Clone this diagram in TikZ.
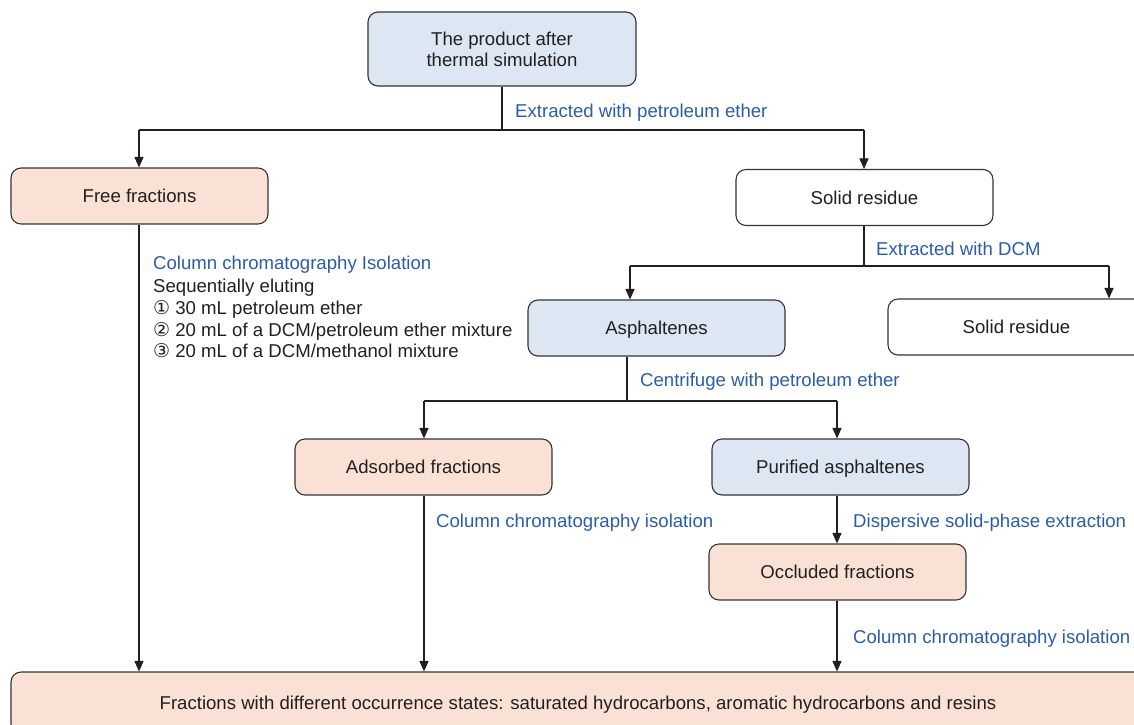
\documentclass[tikz,border=0pt]{standalone}
\usepackage{fontspec}
\setmainfont{Liberation Sans}
\newfontfamily\symfont{DejaVu Sans}
\usetikzlibrary{arrows.meta}
\definecolor{lblue}{HTML}{2B5CAB}
\definecolor{bfill}{HTML}{DCE7F3}
\definecolor{pfill}{HTML}{FAE1D5}
\definecolor{edge}{HTML}{3A3232}
\definecolor{txt}{HTML}{231F20}
\tikzset{
  box/.style={draw=edge, line width=1.1pt, rounded corners=10pt, minimum width=257pt, minimum height=56pt, inner sep=0pt, text=txt, align=center, font=\fontsize{18.6}{21}\selectfont},
  one/.style={text height=13.5pt, text depth=0pt},
  bluebox/.style={box, fill=bfill},
  peachbox/.style={box, fill=pfill},
  whitebox/.style={box, fill=white},
  conn/.style={draw=txt, line width=1.3pt},
  arr/.style={conn, -{Triangle[length=10.5pt,width=9pt]}},
  lab/.style={anchor=west, inner sep=0pt, text=lblue, font=\fontsize{18.6}{21}\selectfont},
}
\newcommand{\circnum}[1]{{\symfont\fontsize{19}{21.75}\selectfont #1}}
\begin{document}
\begin{tikzpicture}[x=1pt,y=-1pt]
\useasboundingbox (0,0) rectangle (1134,724);
\clip (0,0) rectangle (1134,724);
% boxes
\node[bluebox, minimum width=268pt, minimum height=74pt] (top) at (502,49) {The product after\\thermal simulation};
\node[peachbox, one] (free) at (139.5,196) {Free fractions};
\node[whitebox, one] (sr1) at (864.5,197.5) {Solid residue};
\node[bluebox, one] (asph) at (656.5,328) {Asphaltenes};
\node[whitebox, one] (sr2) at (1016.5,327) {Solid residue};
\node[peachbox, one] (ads) at (423.5,467) {Adsorbed fractions};
\node[bluebox, one] (pur) at (840.5,467) {Purified asphaltenes};
\node[peachbox, one] (occ) at (837.5,572) {Occluded fractions};
\node[peachbox, one, minimum width=1134pt, minimum height=62pt] (fin) at (578,703) {Fractions with different occurrence states: saturated hydrocarbons, aromatic hydrocarbons and resins};
% junction coordinates
\coordinate (j1) at (502,130);
\coordinate (j1l) at (139,130);
\coordinate (j1r) at (864,130);
\coordinate (j2) at (864,266);
\coordinate (j2l) at (630,266);
\coordinate (j2r) at (1109,266);
\coordinate (j3) at (627,401);
\coordinate (j3l) at (424,401);
\coordinate (j3r) at (837,401);
% connectors
\draw[conn] (top.south) -- (j1);
\draw[conn] (j1l) -- (j1r);
\draw[arr] (j1l) -- (j1l |- free.north);
\draw[arr] (j1r) -- (j1r |- sr1.north);
\draw[conn] (j2 |- sr1.south) -- (j2);
\draw[conn] (j2l) -- (j2r);
\draw[arr] (j2l) -- (j2l |- asph.north);
\draw[arr] (j2r) -- (j2r |- sr2.north);
\draw[conn] (j3 |- asph.south) -- (j3);
\draw[conn] (j3l) -- (j3r);
\draw[arr] (j3l) -- (j3l |- ads.north);
\draw[arr] (j3r) -- (j3r |- pur.north);
\draw[arr] (j3r |- pur.south) -- (j3r |- occ.north);
\draw[arr] (j3r |- occ.south) -- (j3r |- fin.north);
\draw[arr] (j3l |- ads.south) -- (j3l |- fin.north);
\draw[arr] (j1l |- free.south) -- (j1l |- fin.north);
% labels
\node[lab] (l1) at (515,113) {Extracted with petroleum ether};
\node[lab] (l2) at (876,249) {Extracted with DCM};
\node[lab] (l3) at (640,382) {Centrifuge with petroleum ether};
\node[lab] (l4) at (436,523) {Column chromatography isolation};
\node[lab] (l5) at (853,523) {Dispersive solid-phase extraction};
\node[lab] (l6) at (853,639) {Column chromatography isolation};
\node[lab] (l7) at (153,265) {Column chromatography Isolation};
\node[anchor=north west, inner sep=0pt, text=txt, align=left, font=\fontsize{18.6}{21.75}\selectfont] (steps) at (153,279) {Sequentially eluting\\\circnum{①} 30 mL petroleum ether\\\circnum{②} 20 mL of a DCM/petroleum ether mixture\\\circnum{③} 20 mL of a DCM/methanol mixture};
\end{tikzpicture}
\end{document}
